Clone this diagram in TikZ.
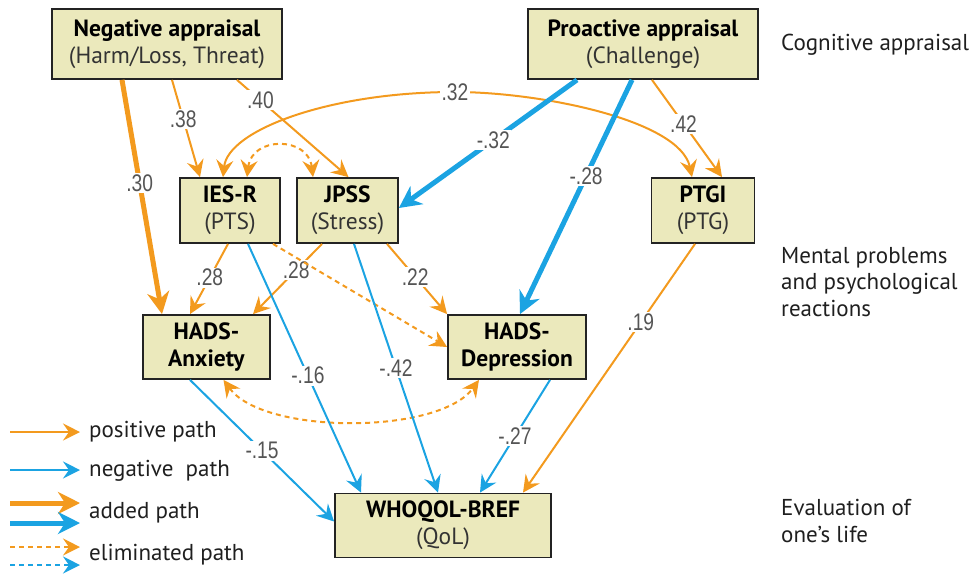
\documentclass[tikz,border=0pt]{standalone}
\usepackage{fontspec}
\setmainfont{PT Sans}
\newfontfamily\numfont[FakeStretch=0.8]{Liberation Sans}
\usetikzlibrary{arrows.meta}
\definecolor{org}{RGB}{243,154,30}
\definecolor{blu}{RGB}{27,163,226}
\definecolor{boxfill}{RGB}{235,233,188}
\definecolor{boxline}{RGB}{35,35,35}
\definecolor{numgray}{RGB}{85,85,85}
\begin{document}
\begin{tikzpicture}[x=1pt,y=-1pt,
  box/.style={draw=boxline, line width=1.8pt, fill=boxfill, inner sep=0pt, align=center, font=\fontsize{23.5}{27}\selectfont},
  thintip/.style={-{Stealth[length=17pt,width=17pt,inset=6pt]}},
  thicktip/.style={-{Stealth[length=22pt,width=22pt,inset=7pt]}},
  parr/.style={draw=org, line width=2pt, thintip},
  narr/.style={draw=blu, line width=2pt, thintip},
  paddarr/.style={draw=org, line width=5pt, thicktip},
  naddarr/.style={draw=blu, line width=5pt, thicktip},
  elim/.style={dash pattern=on 5pt off 4pt},
  lbl/.style={fill=white, inner sep=1.5pt, text=numgray, font=\numfont\fontsize{24}{24}\selectfont},
  side/.style={anchor=west, align=left, inner sep=0pt, font=\fontsize{23}{26.5}\selectfont, text=black!88},
  legtxt/.style={anchor=west, inner sep=0pt, font=\fontsize{23}{24}\selectfont, text=black!88}
]
\useasboundingbox (0,0) rectangle (973,582);

% boxes
\node[box, minimum width=230pt, minimum height=70pt] (neg) at (167,44) {\textbf{Negative appraisal}\\{\color{black!80}(Harm/Loss, Threat)}};
\node[box, minimum width=230pt, minimum height=70pt] (pro) at (643,44) {\textbf{Proactive appraisal}\\{\color{black!80}(Challenge)}};
\node[box, minimum width=100pt, minimum height=65pt] (ies) at (230,210.5) {\textbf{IES-R}\\{\color{black!80}(PTS)}};
\node[box, minimum width=101pt, minimum height=65pt] (jpss) at (347.5,210.5) {\textbf{JPSS}\\{\color{black!80}(Stress)}};
\node[box, minimum width=103pt, minimum height=65pt] (ptgi) at (703,210.5) {\textbf{PTGI}\\{\color{black!80}(PTG)}};
\node[box, minimum width=127pt, minimum height=64pt] (anx) at (206.5,347) {\textbf{HADS-}\\\textbf{Anxiety}};
\node[box, minimum width=138pt, minimum height=64pt] (dep) at (517,347) {\textbf{HADS-}\\\textbf{Depression}};
\node[box, minimum width=216pt, minimum height=64pt] (who) at (443,525.5) {\textbf{WHOQOL-BREF}\\{\color{black!80}(QoL)}};

% side labels
\node[side] (s1) at (781,45) {Cognitive appraisal};
\node[side] (s2) at (781,282) {Mental problems\\and psychological\\reactions};
\node[side] (s3) at (781,521) {Evaluation of\\one’s life};

% correlations
\coordinate (m32) at (455,92);
\draw[org, line width=2pt, {Stealth[length=17pt,width=17pt,inset=6pt]}-{Stealth[length=17pt,width=17pt,inset=6pt]}]
  ([xshift=-7pt]ies.north) .. controls (228,130) and (330,92) .. (m32)
  .. controls (540,92) and (680,120) .. ([xshift=-11pt]ptgi.north);
\node[lbl] at (m32) {.32};
\draw[org, line width=2pt, elim, {Stealth[length=17pt,width=17pt,inset=6pt]}-{Stealth[length=17pt,width=17pt,inset=6pt]}]
  ([xshift=17pt]ies.north) .. controls +(5,-41) and +(-5,-41) .. ([xshift=-34.5pt]jpss.north);
\draw[org, line width=2pt, elim, {Stealth[length=17pt,width=17pt,inset=6pt]}-{Stealth[length=17pt,width=17pt,inset=6pt]}]
  ([xshift=17pt]anx.south) .. controls +(40,55) and +(-40,55) .. ([xshift=-38pt]dep.south);

% paths from negative appraisal
\draw[parr] ([xshift=5pt]neg.south) -- node[lbl, pos=0.4] {.38} ([xshift=-30pt]ies.north);
\draw[parr] ([xshift=70pt]neg.south) -- node[lbl, pos=0.21] {.40} ([xshift=1pt]jpss.north);
\draw[paddarr] ([xshift=-45pt]neg.south) -- node[lbl, pos=0.44] {.30} ([xshift=-44.5pt]anx.north);

% paths from proactive appraisal
\draw[naddarr] ([xshift=-66pt]pro.south) -- node[lbl, pos=0.47] {-.32} ([yshift=2.5pt]jpss.east);
\draw[naddarr] ([xshift=-11pt]pro.south) -- node[lbl, pos=0.41] {-.28} ([xshift=3pt]dep.north);
\draw[parr] ([xshift=9pt]pro.south) -- node[lbl, pos=0.45] {.42} ([xshift=19pt]ptgi.north);

% middle level
\draw[parr] ([xshift=-2pt]ies.south) -- node[lbl, pos=0.48] {.28} ([xshift=-16.5pt]anx.north);
\draw[parr] ([xshift=-25.5pt]jpss.south) -- node[lbl, pos=0.375] {.28} ([xshift=46.5pt]anx.north);
\draw[parr] ([xshift=39.5pt]jpss.south) -- node[lbl, pos=0.47] {.22} (dep.north west);
\draw[parr, elim] ([xshift=43pt]ies.south) -- (dep.west);

% to WHOQOL
\draw[narr] ([xshift=18pt]ies.south) -- node[lbl, pos=0.53] {-.16} ([xshift=-82pt]who.north);
\draw[narr] ([xshift=6.5pt]jpss.south) -- node[lbl, pos=0.5] {-.42} ([xshift=-5pt]who.north);
\draw[narr] ([xshift=33pt]dep.south) -- node[lbl, pos=0.5] {-.27} ([xshift=37pt]who.north);
\draw[parr] ([xshift=-8pt]ptgi.south) -- node[lbl, pos=0.315] {.19} ([xshift=80pt]who.north);
\draw[narr] ([xshift=-16.5pt]anx.south) -- node[lbl, pos=0.5] {-.15} ([yshift=4pt]who.west);

% legend
\coordinate (l1a) at (10,432); \coordinate (l1b) at (80,432);
\coordinate (l2a) at (10,470); \coordinate (l2b) at (80,470);
\coordinate (l3a) at (10,503); \coordinate (l3b) at (80,503);
\coordinate (l4a) at (10,523); \coordinate (l4b) at (80,523);
\coordinate (l5a) at (10,547); \coordinate (l5b) at (80,547);
\coordinate (l6a) at (10,565); \coordinate (l6b) at (80,565);
\draw[parr] (l1a) -- (l1b);
\draw[narr] (l2a) -- (l2b);
\draw[paddarr] (l3a) -- (l3b);
\draw[naddarr] (l4a) -- (l4b);
\draw[parr, elim] (l5a) -- (l5b);
\draw[narr, elim] (l6a) -- (l6b);
\node[legtxt] (t1) at (89,432) {positive path};
\node[legtxt] (t2) at (89,471) {negative\ \ path};
\node[legtxt] (t3) at (89,513) {added path};
\node[legtxt] (t4) at (89,555) {eliminated path};
\end{tikzpicture}
\end{document}
